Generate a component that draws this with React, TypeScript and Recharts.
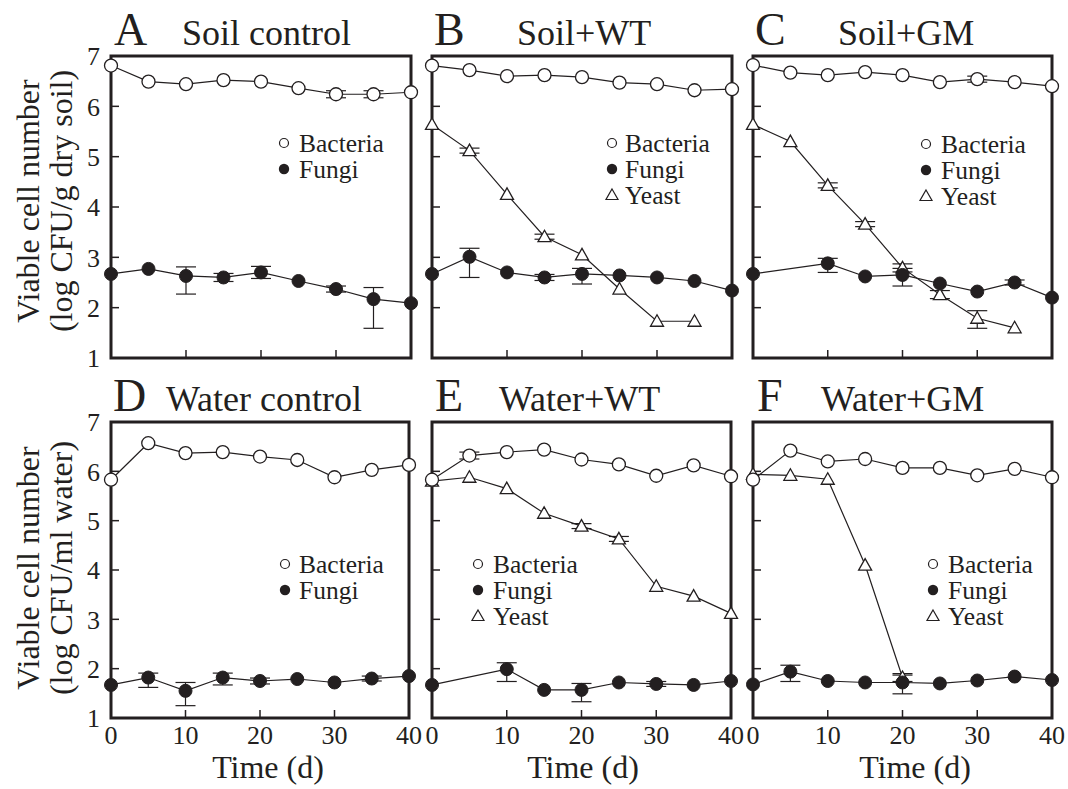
import { ErrorBar, Line, LineChart, ReferenceArea, ReferenceLine, XAxis, YAxis } from 'recharts';

type Err = number | [number, number] | null;

const ink = '#231f20';
const serif = '"Liberation Serif", "Times New Roman", serif';

const time = [0, 5, 10, 15, 20, 25, 30, 35, 40];
const xTicks = [0, 10, 20, 30, 40];
const yTicks = [1, 2, 3, 4, 5, 6, 7];
const xInner = [10, 20, 30];
const yInner = [2, 3, 4, 5, 6];

// A  Soil control
const aBacteria = [6.81, 6.49, 6.44, 6.52, 6.49, 6.36, 6.24, 6.24, 6.28];
const aBacteriaErr: Err[] = [null, null, null, null, null, null, 0.07, 0.07, null];
const aFungi = [2.67, 2.77, 2.63, 2.6, 2.7, 2.53, 2.37, 2.17, 2.09];
const aFungiErr: Err[] = [null, null, [0.36, 0.18], 0.08, 0.12, null, 0.06, [0.58, 0.23], null];

// B  Soil+WT
const bBacteria = [6.81, 6.72, 6.6, 6.62, 6.58, 6.47, 6.44, 6.32, 6.34];
const bBacteriaErr: Err[] = [null, null, null, null, null, null, null, null, null];
const bFungi = [2.67, 3.01, 2.7, 2.6, 2.67, 2.64, 2.6, 2.53, 2.34];
const bFungiErr: Err[] = [null, [0.41, 0.17], null, 0.06, [0.2, 0.11], null, null, null, null];
const bYeast = [5.64, 5.12, 4.25, 3.41, 3.05, 2.37, 1.73, 1.73, null];
const bYeastErr: Err[] = [null, 0.05, null, 0.05, null, null, null, null, null];

// C  Soil+GM
const cBacteria = [6.82, 6.67, 6.62, 6.68, 6.62, 6.48, 6.54, 6.48, 6.4];
const cBacteriaErr: Err[] = [null, null, null, null, null, null, 0.06, null, null];
const cFungi = [2.67, null, 2.88, 2.62, 2.65, 2.48, 2.32, 2.5, 2.2];
const cFungiErr: Err[] = [null, null, [0.18, 0.1], null, [0.22, 0.13], null, null, 0.05, null];
const cYeast = [5.64, 5.3, 4.43, 3.66, 2.79, 2.26, 1.79, 1.6, null];
const cYeastErr: Err[] = [null, null, 0.05, 0.05, 0.08, 0.08, [0.2, 0.15], null, null];

// D  Water control
const dBacteria = [5.83, 6.57, 6.37, 6.39, 6.3, 6.23, 5.88, 6.03, 6.13];
const dBacteriaErr: Err[] = [null, null, null, null, null, null, null, null, null];
const dFungi = [1.67, 1.82, 1.55, 1.82, 1.75, 1.79, 1.72, 1.8, 1.85];
const dFungiErr: Err[] = [null, [0.2, 0.09], [0.3, 0.17], [0.15, 0.09], 0.06, null, null, 0.05, null];

// E  Water+WT
const eBacteria = [5.83, 6.32, 6.39, 6.44, 6.24, 6.14, 5.91, 6.12, 5.9];
const eBacteriaErr: Err[] = [null, 0.07, null, null, null, null, null, null, null];
const eFungi = [1.67, null, 1.99, 1.57, 1.57, 1.72, 1.69, 1.67, 1.75];
const eFungiErr: Err[] = [null, null, [0.25, 0.13], null, [0.24, 0.13], null, 0.05, null, null];
const eYeast = [5.8, 5.88, 5.65, 5.15, 4.89, 4.63, 3.67, 3.47, 3.12];
const eYeastErr: Err[] = [null, null, null, null, 0.05, 0.05, null, null, null];

// F  Water+GM
const fBacteria = [5.83, 6.42, 6.2, 6.25, 6.07, 6.07, 5.92, 6.05, 5.88];
const fBacteriaErr: Err[] = [null, null, null, null, null, null, null, null, null];
const fFungi = [1.68, 1.94, 1.75, 1.72, 1.72, 1.7, 1.76, 1.84, 1.77];
const fFungiErr: Err[] = [null, [0.2, 0.13], null, null, [0.23, 0.15], null, null, null, null];
const fYeast = [5.94, 5.92, 5.84, 4.1, 1.82, null, null, null, null];
const fYeastErr: Err[] = [null, null, null, null, 0.08, null, null, null, null];

type Box = { left: number; top: number; right: number; bottom: number };

interface PanelSpec {
  letter: string;
  title: string;
  letterX: number;
  titleX: number;
  baseline: number;
  box: Box;
  xLabels: boolean;
  yLabels: boolean;
  legendSymX: number;
  legendTextX: number;
  legendY: number;
  bacteria: (number | null)[];
  bacteriaErr: Err[];
  fungi: (number | null)[];
  fungiErr: Err[];
  yeast?: (number | null)[];
  yeastErr?: Err[];
}

const panels: PanelSpec[] = [
  {
    letter: 'A', title: 'Soil control', letterX: 114, titleX: 182, baseline: 45,
    box: { left: 111, top: 56, right: 411, bottom: 358 }, xLabels: false, yLabels: true,
    legendSymX: 284, legendTextX: 299, legendY: 152,
    bacteria: aBacteria, bacteriaErr: aBacteriaErr, fungi: aFungi, fungiErr: aFungiErr,
  },
  {
    letter: 'B', title: 'Soil+WT', letterX: 434, titleX: 517, baseline: 45,
    box: { left: 432, top: 56, right: 732, bottom: 358 }, xLabels: false, yLabels: false,
    legendSymX: 612, legendTextX: 625, legendY: 152,
    bacteria: bBacteria, bacteriaErr: bBacteriaErr, fungi: bFungi, fungiErr: bFungiErr,
    yeast: bYeast, yeastErr: bYeastErr,
  },
  {
    letter: 'C', title: 'Soil+GM', letterX: 755, titleX: 838, baseline: 45,
    box: { left: 753, top: 56, right: 1052, bottom: 358 }, xLabels: false, yLabels: false,
    legendSymX: 926, legendTextX: 941, legendY: 153,
    bacteria: cBacteria, bacteriaErr: cBacteriaErr, fungi: cFungi, fungiErr: cFungiErr,
    yeast: cYeast, yeastErr: cYeastErr,
  },
  {
    letter: 'D', title: 'Water control', letterX: 113, titleX: 166, baseline: 411,
    box: { left: 111, top: 422, right: 409, bottom: 718 }, xLabels: true, yLabels: true,
    legendSymX: 285, legendTextX: 299, legendY: 573,
    bacteria: dBacteria, bacteriaErr: dBacteriaErr, fungi: dFungi, fungiErr: dFungiErr,
  },
  {
    letter: 'E', title: 'Water+WT', letterX: 435, titleX: 499, baseline: 411,
    box: { left: 432, top: 422, right: 731, bottom: 718 }, xLabels: true, yLabels: false,
    legendSymX: 478, legendTextX: 493, legendY: 573,
    bacteria: eBacteria, bacteriaErr: eBacteriaErr, fungi: eFungi, fungiErr: eFungiErr,
    yeast: eYeast, yeastErr: eYeastErr,
  },
  {
    letter: 'F', title: 'Water+GM', letterX: 757, titleX: 821, baseline: 411,
    box: { left: 753, top: 422, right: 1052, bottom: 718 }, xLabels: true, yLabels: false,
    legendSymX: 933, legendTextX: 948, legendY: 573,
    bacteria: fBacteria, bacteriaErr: fBacteriaErr, fungi: fFungi, fungiErr: fFungiErr,
    yeast: fYeast, yeastErr: fYeastErr,
  },
];

const M = 48;
const X_AXIS_H = 36;
const Y_AXIS_W = 42;
const TICK_PX = 8;
const tickFont = { fill: ink, fontSize: 26, fontFamily: serif };

function Triangle(props: any) {
  const { cx, cy, index, value } = props;
  if (cx == null || cy == null || value == null) return null;
  const s = 6.5;
  return (
    <path
      key={`tri-${index}`}
      d={`M${cx},${cy - s}L${cx + s},${cy + 5}L${cx - s},${cy + 5}Z`}
      fill="#fff"
      stroke={ink}
      strokeWidth={1.3}
    />
  );
}

function Panel({ p }: { p: PanelSpec }) {
  const w = p.box.right - p.box.left;
  const h = p.box.bottom - p.box.top;
  // inward tick length in data units
  const tx = (TICK_PX * 40) / w;
  const ty = (TICK_PX * 6) / h;
  const rows = time.map((t, i) => ({
    t,
    bacteria: p.bacteria[i],
    bacteriaErr: p.bacteriaErr[i],
    fungi: p.fungi[i],
    fungiErr: p.fungiErr[i],
    yeast: p.yeast ? p.yeast[i] : null,
    yeastErr: p.yeastErr ? p.yeastErr[i] : null,
  }));

  return (
    <div style={{ position: 'absolute', left: p.box.left - M, top: p.box.top - M }}>
      <LineChart
        width={w + 2 * M}
        height={h + 2 * M}
        data={rows}
        margin={{ top: M, right: M, bottom: M - X_AXIS_H, left: M - Y_AXIS_W }}
      >
        <XAxis
          dataKey="t"
          type="number"
          domain={[0, 40]}
          ticks={xTicks}
          height={X_AXIS_H}
          axisLine={false}
          tickLine={false}
          tickSize={0}
          tickMargin={8}
          tick={p.xLabels ? tickFont : false}
          interval={0}
        />
        <YAxis
          type="number"
          domain={[1, 7]}
          ticks={yTicks}
          width={Y_AXIS_W}
          axisLine={false}
          tickLine={false}
          tickSize={0}
          tickMargin={11}
          tick={p.yLabels ? tickFont : false}
          interval={0}
        />
        <ReferenceArea x1={0} x2={40} y1={1} y2={7} fill="none" stroke={ink} strokeWidth={3} ifOverflow="visible" />
        {xInner.map((x) => (
          <ReferenceLine
            key={`xt${x}`}
            segment={[{ x, y: 1 }, { x, y: 1 + ty }]}
            stroke={ink}
            strokeWidth={1.5}
          />
        ))}
        {yInner.map((y) => (
          <ReferenceLine
            key={`yt${y}`}
            segment={[{ x: 0, y }, { x: tx, y }]}
            stroke={ink}
            strokeWidth={1.5}
          />
        ))}
        {p.yeast && (
          <Line
            dataKey="yeast"
            stroke={ink}
            strokeWidth={1.2}
            dot={Triangle}
            activeDot={false}
            isAnimationActive={false}
          >
            <ErrorBar dataKey="yeastErr" width={10} stroke={ink} strokeWidth={1.2} />
          </Line>
        )}
        <Line
          dataKey="fungi"
          stroke={ink}
          strokeWidth={1.2}
          connectNulls
          dot={{ r: 6.5, fill: ink, stroke: ink, strokeWidth: 1 }}
          activeDot={false}
          isAnimationActive={false}
        >
          <ErrorBar dataKey="fungiErr" width={10} stroke={ink} strokeWidth={1.2} />
        </Line>
        <Line
          dataKey="bacteria"
          stroke={ink}
          strokeWidth={1.2}
          dot={{ r: 6.5, fill: '#fff', stroke: ink, strokeWidth: 1.3 }}
          activeDot={false}
          isAnimationActive={false}
        >
          <ErrorBar dataKey="bacteriaErr" width={10} stroke={ink} strokeWidth={1.2} />
        </Line>
      </LineChart>
    </div>
  );
}

function Labels() {
  const legendNames = (p: PanelSpec) => (p.yeast ? ['Bacteria', 'Fungi', 'Yeast'] : ['Bacteria', 'Fungi']);
  return (
    <svg
      width={1068}
      height={789}
      style={{ position: 'absolute', left: 0, top: 0, pointerEvents: 'none' }}
      fontFamily={serif}
      fill={ink}
    >
      {panels.map((p) => (
        <g key={p.letter}>
          <text x={p.letterX} y={p.baseline} fontSize={46}>{p.letter}</text>
          <text x={p.titleX} y={p.baseline} fontSize={36}>{p.title}</text>
          {legendNames(p).map((name, i) => {
            const y = p.legendY + i * 26;
            const cy = y - 9;
            const sx = p.legendSymX;
            return (
              <g key={name}>
                {name === 'Bacteria' && <circle cx={sx} cy={cy} r={4.5} fill="#fff" stroke={ink} strokeWidth={1.2} />}
                {name === 'Fungi' && <circle cx={sx} cy={cy} r={5.2} fill={ink} />}
                {name === 'Yeast' && (
                  <path d={`M${sx},${cy - 6}L${sx + 6},${cy + 4.5}L${sx - 6},${cy + 4.5}Z`} fill="#fff" stroke={ink} strokeWidth={1.2} />
                )}
                <text x={p.legendTextX} y={y} fontSize={25.5}>{name}</text>
              </g>
            );
          })}
        </g>
      ))}
      {[
        { cy: 201, lines: ['Viable cell number', '(log CFU/g dry soil)'] },
        { cy: 568, lines: ['Viable cell number', '(log CFU/ml water)'] },
      ].map((lab, k) => (
        <g key={k}>
          <text transform={`translate(39,${lab.cy}) rotate(-90)`} textAnchor="middle" fontSize={32}>{lab.lines[0]}</text>
          <text transform={`translate(72,${lab.cy}) rotate(-90)`} textAnchor="middle" fontSize={32}>{lab.lines[1]}</text>
        </g>
      ))}
      {[268, 583, 915].map((cx) => (
        <text key={cx} x={cx} y={778} textAnchor="middle" fontSize={32}>Time (d)</text>
      ))}
    </svg>
  );
}

export default function App() {
  return (
    <div style={{ position: 'absolute', left: 0, top: 0, width: 1068, height: 789, background: '#fff' }}>
      {panels.map((p) => (
        <Panel key={p.letter} p={p} />
      ))}
      <Labels />
    </div>
  );
}
